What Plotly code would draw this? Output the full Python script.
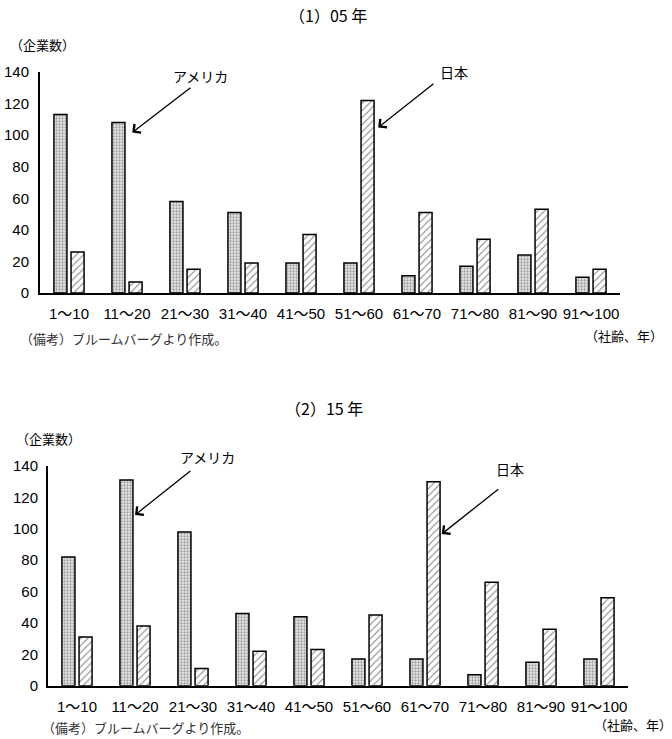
import plotly.graph_objects as go

categories = ["1～10", "11～20", "21～30", "31～40", "41～50",
              "51～60", "61～70", "71～80", "81～90", "91～100"]
us_2005 = [113, 108, 58, 51, 19, 19, 11, 17, 24, 10]
jp_2005 = [26, 7, 15, 19, 37, 122, 51, 34, 53, 15]
us_2015 = [82, 131, 98, 46, 44, 17, 17, 7, 15, 17]
jp_2015 = [31, 38, 11, 22, 23, 45, 130, 66, 36, 56]
y_ticks = [0, 20, 40, 60, 80, 100, 120, 140]

W, H = 672, 739
FONT = "Liberation Sans Narrow, Liberation Sans, Arial, Noto Sans CJK JP"
JP = "Noto Sans CJK JP"

fig = go.Figure()

def px2x(p):
    return p / W

def py2y(p):
    return 1 - p / H

panels = [
    dict(us=us_2005, jp=jp_2005, xa="x", ya="y",
         xdom=[40 / W, 620 / W], ydom=[py2y(293), py2y(72)]),
    dict(us=us_2015, jp=jp_2015, xa="x2", ya="y2",
         xdom=[48 / W, 628 / W], ydom=[py2y(685.7), py2y(466)]),
]

for i, p in enumerate(panels):
    fig.add_trace(go.Bar(
        x=categories, y=p["us"], xaxis=p["xa"], yaxis=p["ya"], name="アメリカ",
        marker=dict(color="white", line=dict(color="black", width=1.5),
                    pattern=dict(shape=".", size=3, solidity=0.45,
                                 fgcolor="#555555", bgcolor="#e8e8e8")),
        showlegend=False))
    fig.add_trace(go.Bar(
        x=categories, y=p["jp"], xaxis=p["xa"], yaxis=p["ya"], name="日本",
        marker=dict(color="white", line=dict(color="black", width=1.5),
                    pattern=dict(shape="/", size=5, solidity=0.2,
                                 fgcolor="black", bgcolor="white")),
        showlegend=False))

axis_common = dict(showgrid=False, zeroline=False, showline=True,
                   linecolor="black", linewidth=2, ticks="",
                   tickfont=dict(family=FONT, size=15, color="black"))

fig.update_layout(
    width=W, height=H, margin=dict(l=0, r=0, t=0, b=0, autoexpand=False),
    paper_bgcolor="white", plot_bgcolor="white",
    barmode="group", bargap=0.41, bargroupgap=0.24,
    xaxis=dict(domain=panels[0]["xdom"], anchor="y", range=[-0.5, 9.5],
               ticklabelstandoff=6, **axis_common),
    yaxis=dict(domain=panels[0]["ydom"], anchor="x", range=[0, 140],
               tickvals=y_ticks, ticklabelstandoff=6, **axis_common),
    xaxis2=dict(domain=panels[1]["xdom"], anchor="y2", range=[-0.5, 9.5],
                ticklabelstandoff=6, **axis_common),
    yaxis2=dict(domain=panels[1]["ydom"], anchor="x2", range=[0, 140],
                tickvals=y_ticks, ticklabelstandoff=5, **axis_common),
)

ann = []
def txt(text, x, y, size=14, xanchor="center", color="black", family=JP):
    ann.append(dict(text=text, x=px2x(x), y=py2y(y), xref="paper", yref="paper",
                    showarrow=False, xanchor=xanchor, yanchor="middle",
                    font=dict(family=family, size=size, color=color)))

# titles
txt("（1）05 年", 328, 15, size=16)
txt("（2）15 年", 324, 408, size=16)
# y-axis unit labels
txt("（企業数）", 8, 45, size=13, xanchor="left")
txt("（企業数）", 14, 438, size=13, xanchor="left")
# x-axis unit labels
txt("（社齢、年）", 583, 335, size=13, xanchor="left")
txt("（社齢、年）", 592, 724, size=13, xanchor="left")
# notes
txt("（備考）ブルームバーグより作成。", 18, 338, size=13, xanchor="left", color="#333333")
txt("（備考）ブルームバーグより作成。", 40, 727, size=13, xanchor="left", color="#333333")
# series labels
txt("アメリカ", 200, 76)
txt("日本", 454, 72)
txt("アメリカ", 207, 457)
txt("日本", 510, 469)

# arrows (data coordinates)
def arrow(xa, ya, head, tail):
    ann.append(dict(text="", x=head[0], y=head[1], xref=xa, yref=ya,
                    ax=tail[0], ay=tail[1], axref=xa, ayref=ya,
                    showarrow=True, arrowhead=4, arrowsize=1.6, arrowwidth=1.3,
                    arrowcolor="black"))

arrow("x", "y", (1.09, 101.6), (2.12, 130.8))
arrow("x", "y", (5.33, 104.8), (6.31, 133.3))
arrow("x2", "y2", (1.0, 108.8), (1.98, 137.5))
arrow("x2", "y2", (6.29, 96.7), (7.29, 126))

fig.update_layout(annotations=ann)
fig.write_html("out.html")
